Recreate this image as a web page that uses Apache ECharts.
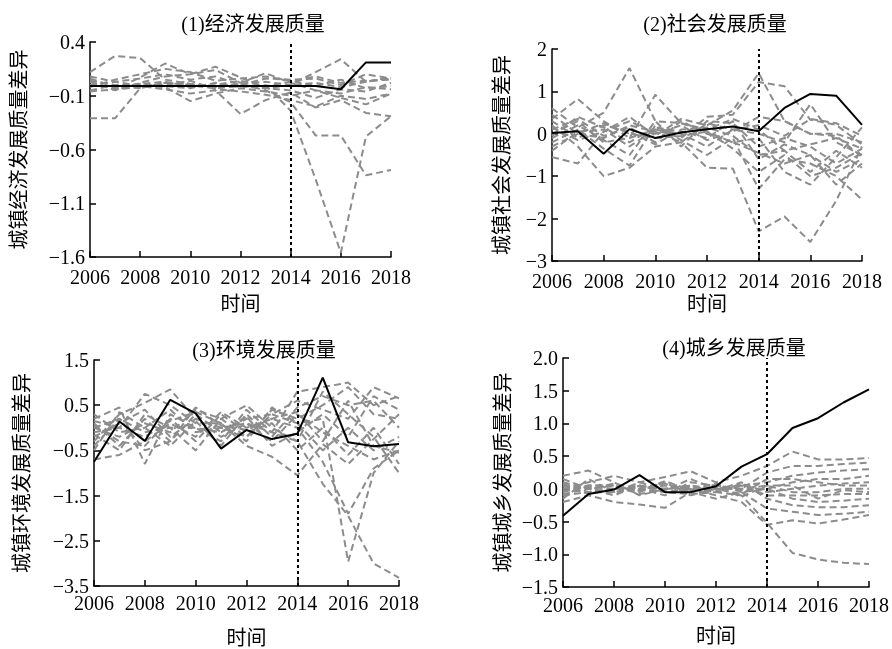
<!DOCTYPE html>
<html><head><meta charset="utf-8">
<script src="https://cdn.jsdelivr.net/npm/echarts@6/dist/echarts.min.js"></script>
<style>html,body{margin:0;padding:0;background:#fff}#c{width:892px;height:649px}#c svg{filter:grayscale(1);will-change:transform}</style>
</head><body><div id="c"></div>
<script>
const years = [2006,2007,2008,2009,2010,2011,2012,2013,2014,2015,2016,2017,2018];
const xTicks = [2006,2008,2010,2012,2014,2016,2018];

const titles = ['(1)经济发展质量','(2)社会发展质量','(3)环境发展质量','(4)城乡发展质量'];
const yNames = ['城镇经济发展质量差异','城镇社会发展质量差异','城镇环境发展质量差异','城镇城乡发展质量差异'];
const xName = '时间';
const yTicks1 = [-1.6,-1.1,-0.6,-0.1,0.4];
const yTicks2 = [-3,-2,-1,0,1,2];
const yTicks3 = [-3.5,-2.5,-1.5,-0.5,0.5,1.5];
const yTicks4 = [-1.5,-1.0,-0.5,0.0,0.5,1.0,1.5,2.0];

// (1) economic
const econTreated = [-0.01,-0.01,-0.01,-0.01,-0.01,-0.01,-0.01,-0.01,-0.01,-0.01,-0.04,0.21,0.21];
const econP1 = [-0.31,-0.31,-0.03,0.02,0.0,-0.03,-0.01,-0.03,0.0,0.02,-0.02,0.03,0.06];
const econP2 = [0.12,0.27,0.25,0.05,0.01,-0.02,0.01,0.03,0.0,0.12,0.24,0.03,0.07];
const econP3 = [0.03,-0.04,0.07,0.2,0.1,0.17,0.07,-0.03,-0.05,-0.12,-0.04,-0.06,0.02];
const econP4 = [0.0,-0.02,0.01,-0.01,-0.03,0.02,-0.02,0.0,-0.24,-0.88,-1.56,-0.48,-0.29];
const econP5 = [0.04,0.0,-0.03,0.02,0.01,-0.02,0.01,-0.05,-0.16,-0.47,-0.47,-0.84,-0.79];
const econP6 = [0.0,0.03,-0.01,-0.04,-0.08,-0.05,-0.27,-0.14,-0.07,-0.21,-0.14,-0.26,-0.29];
const econP7 = [0.08,0.03,0.06,0.1,0.05,0.08,0.0,0.06,0.05,0.06,0.0,0.1,0.06];
const econP8 = [-0.05,0.0,0.0,-0.02,-0.15,-0.08,-0.03,-0.06,-0.1,-0.05,-0.08,-0.02,-0.04];
const econP9 = [0.03,-0.05,0.02,0.08,0.1,0.14,0.02,0.11,0.02,-0.05,-0.12,-0.18,-0.08];
const econP10 = [-0.02,0.05,0.1,0.15,0.12,0.04,0.06,0.08,0.04,-0.01,0.05,-0.03,-0.01];
const econP11 = [0.06,-0.02,0.01,0.03,-0.02,0.0,0.04,-0.01,0.03,0.08,0.02,0.04,0.05];
const econP12 = [-0.06,-0.04,-0.02,0.0,0.04,-0.04,-0.06,-0.09,-0.14,-0.2,-0.1,-0.13,-0.08];

// (2) social
const socTreated = [0.02,0.06,-0.47,0.11,-0.1,0.03,0.11,0.17,0.06,0.61,0.94,0.9,0.21];
const socP1 = [0.6,0.15,0.5,1.55,0.3,0.25,0.1,0.35,0.1,-0.4,-0.25,-0.1,-0.35];
const socP2 = [0.35,0.82,0.3,-0.1,0.92,0.25,0.05,-0.2,-0.45,-0.7,-0.5,-0.9,-0.6];
const socP3 = [-0.55,-0.7,0.05,0.4,-0.05,0.35,0.2,0.55,1.43,0.3,0.0,-0.05,-0.55];
const socP4 = [0.0,0.3,-0.2,-0.1,0.1,-0.1,0.4,0.45,1.22,1.12,0.33,0.21,-0.25];
const socP5 = [0.2,-0.3,-1.0,-0.8,-0.3,-0.2,-0.8,-0.82,-2.3,-1.95,-2.55,-1.58,-0.3];
const socP6 = [-0.2,0.1,-0.35,-0.75,0.2,-0.15,-0.5,-0.1,-1.3,-0.6,-0.7,-1.0,-1.55];
const socP7 = [0.1,0.35,-0.05,0.15,-0.2,0.3,0.0,-0.2,-0.1,-0.9,-1.2,-0.55,0.15];
const socP8 = [-0.4,0.05,0.1,-0.3,0.1,0.0,-0.3,0.1,0.0,-0.2,0.7,-0.2,-0.5];
const socP9 = [0.3,-0.1,0.2,0.05,-0.25,0.1,0.15,-0.05,-0.5,-0.4,-0.9,-0.4,-0.8];
const socP10 = [-0.1,0.2,-0.15,-0.5,0.3,-0.3,0.3,0.25,-0.3,-0.1,-0.3,-0.7,-0.35];
const socP11 = [0.15,-0.15,0.05,0.3,0.0,0.2,-0.15,0.05,0.4,0.3,0.0,0.0,-0.2];
const socP12 = [-0.3,0.0,0.25,0.0,-0.1,-0.05,0.05,-0.35,-0.9,-0.5,-1.0,-0.8,-0.45];
const socP13 = [0.45,0.0,-0.1,0.2,0.05,-0.2,0.25,0.1,0.2,-0.05,0.35,0.25,-0.05];
const socP14 = [-0.05,0.4,0.15,-0.2,0.15,0.05,-0.1,0.3,-0.6,-0.25,-0.5,-1.2,-0.7];

// (3) environment
const envTreated = [-0.75,0.14,-0.29,0.62,0.32,-0.46,-0.05,-0.25,-0.13,1.11,-0.32,-0.41,-0.36];
const envP1 = [-0.3,0.3,0.55,0.85,0.2,0.0,0.1,-0.1,-0.3,-1.24,-1.95,-3.0,-3.32];
const envP2 = [0.0,-0.2,0.1,-0.1,0.4,0.2,-0.2,0.3,0.1,0.2,-2.96,-1.0,-0.3];
const envP3 = [-0.7,-0.6,-0.3,0.1,-0.2,0.35,0.0,0.2,0.0,-0.75,-1.9,-0.9,-0.5];
const envP4 = [0.2,0.45,-0.8,0.3,0.0,-0.3,0.4,-0.1,0.8,0.9,1.0,0.5,0.7];
const envP5 = [-0.1,0.0,0.75,0.5,0.1,0.1,-0.4,-0.64,-1.05,-0.36,-0.8,-0.25,0.3];
const envP6 = [0.1,-0.4,0.2,-0.3,0.3,-0.1,0.2,0.3,0.6,0.4,0.2,0.9,0.65];
const envP7 = [-0.4,0.2,-0.1,0.0,-0.5,0.2,0.5,0.0,-0.3,0.8,0.3,-0.2,-1.0];
const envP8 = [0.3,-0.1,0.0,0.4,-0.1,0.0,-0.2,0.4,0.2,0.5,0.9,0.3,0.2];
const envP9 = [-0.2,0.1,0.4,-0.2,0.2,-0.2,0.1,-0.3,0.3,-0.1,-0.4,-0.7,-0.5];
const envP10 = [0.05,-0.3,-0.4,0.2,-0.3,0.3,-0.1,0.1,-0.5,0.0,-0.6,0.0,-0.8];
const envP11 = [-0.5,0.35,0.0,-0.4,0.15,-0.4,0.3,-0.2,0.45,0.7,0.5,0.6,0.0];
const envP12 = [0.15,0.0,-0.2,0.15,0.35,0.1,-0.3,0.45,0.1,-0.5,0.0,-0.5,-0.2];
const envP13 = [-0.15,-0.5,0.3,0.0,0.0,-0.1,0.25,-0.4,-0.1,0.3,-0.2,0.7,0.4];
const envP14 = [0.0,0.2,-0.5,-0.3,0.45,0.05,-0.05,0.2,0.35,-0.3,0.6,-0.4,-0.55];

// (4) urban-rural
const urTreated = [-0.41,-0.08,-0.01,0.21,-0.05,-0.05,0.04,0.34,0.53,0.93,1.08,1.32,1.52];
const urP1 = [-0.1,-0.05,0.0,0.05,0.0,0.05,-0.05,-0.1,-0.52,-0.98,-1.08,-1.13,-1.15];
const urP2 = [0.2,0.28,0.1,-0.1,0.0,0.0,-0.1,-0.2,-0.55,-0.48,-0.53,-0.47,-0.4];
const urP3 = [0.0,0.1,0.2,0.1,0.18,0.27,0.1,0.2,0.35,0.57,0.45,0.45,0.47];
const urP4 = [-0.2,-0.1,-0.2,-0.24,-0.29,-0.05,-0.15,-0.05,-0.3,-0.35,-0.4,-0.38,-0.35];
const urP5 = [0.1,0.0,-0.05,0.0,-0.1,0.1,0.05,0.0,0.25,0.35,0.35,0.38,0.4];
const urP6 = [-0.05,0.05,0.05,-0.05,0.1,-0.1,0.0,0.05,0.1,0.2,0.25,0.28,0.3];
const urP7 = [0.05,-0.08,0.0,0.0,0.05,0.0,0.08,-0.05,0.0,0.1,0.15,0.15,0.2];
const urP8 = [-0.08,0.0,-0.1,0.05,-0.05,-0.08,-0.05,0.08,-0.05,0.0,0.05,0.08,0.1];
const urP9 = [0.0,0.05,0.05,-0.08,0.0,0.05,0.0,0.0,0.05,-0.05,-0.05,0.0,0.0];
const urP10 = [0.08,-0.05,-0.05,0.0,-0.05,0.0,-0.05,0.05,-0.1,-0.1,-0.1,-0.08,-0.08];
const urP11 = [-0.03,0.03,0.0,0.02,0.08,-0.05,0.05,-0.02,0.0,-0.15,-0.2,-0.18,-0.15];
const urP12 = [0.05,0.0,0.08,0.0,0.0,0.03,-0.02,0.1,-0.15,-0.25,-0.28,-0.28,-0.25];
const urP13 = [-0.15,0.15,-0.05,0.1,-0.02,0.15,0.0,-0.08,0.15,0.15,0.1,0.05,0.05];
const urP14 = [0.15,0.0,0.05,-0.03,0.12,-0.02,0.03,-0.12,0.05,0.05,-0.15,-0.02,-0.05];

const treatYear = 2014;

const panels = [
  {treated: econTreated, placebos:[econP1,econP2,econP3,econP4,econP5,econP6,econP7,econP8,econP9,econP10,econP11,econP12], ticks: yTicks1, dec:1},
  {treated: socTreated, placebos:[socP1,socP2,socP3,socP4,socP5,socP6,socP7,socP8,socP9,socP10,socP11,socP12,socP13,socP14], ticks: yTicks2, dec:0},
  {treated: envTreated, placebos:[envP1,envP2,envP3,envP4,envP5,envP6,envP7,envP8,envP9,envP10,envP11,envP12,envP13,envP14], ticks: yTicks3, dec:1},
  {treated: urTreated, placebos:[urP1,urP2,urP3,urP4,urP5,urP6,urP7,urP8,urP9,urP10,urP11,urP12,urP13,urP14], ticks: yTicks4, dec:1}
];

// layout
const grids = [
  {left:90, top:42, width:301, height:215},
  {left:552, top:49, width:310, height:212},
  {left:94, top:360, width:305, height:233},
  {left:563, top:358, width:313, height:229}
];
const yNameGap = [61, 40, 62, 50];
const xNameGap = [37, 33, 42, 39];
const xLabelMargin = [12, 12, 9, 10];
const titlePos = [[248,9],[710,9],[259,335],[729,333]];

const serif = '"Liberation Serif","Noto Sans CJK SC",serif';
const fmt = (v, d) => { const s = Math.abs(v).toFixed(d); return (v < -1e-9 ? '\u2212' : '') + s; };

const option = {
  animation:false,
  backgroundColor:'#fff',
  title: titles.map((t,i)=>({text:t, left:titlePos[i][0], top:titlePos[i][1], textAlign:'center',
    textStyle:{fontFamily:serif, fontSize:20, fontWeight:'normal', color:'#000'}})),
  grid: grids.map(g=>Object.assign({containLabel:false}, g)),
  xAxis: grids.map((g,i)=>({
    type:'value', gridIndex:i, min:xTicks[0], max:xTicks[xTicks.length-1], interval:2,
    name:xName, nameLocation:'middle', nameGap:xNameGap[i],
    nameTextStyle:{fontFamily:serif, fontSize:20, color:'#000'},
    axisLine:{show:true, onZero:false, lineStyle:{color:'#000', width:1.5}},
    axisTick:{show:true, inside:true, length:6, lineStyle:{color:'#000', width:1.5}},
    axisLabel:{formatter:v=>String(v), fontFamily:serif, fontSize:20, lineHeight:16, color:'#000', margin:xLabelMargin[i], showMinLabel:true, showMaxLabel:true},
    splitLine:{show:false}
  })),
  yAxis: panels.map((p,i)=>({
    type:'value', gridIndex:i, min:p.ticks[0], max:p.ticks[p.ticks.length-1],
    interval:(p.ticks[1]-p.ticks[0]),
    name:yNames[i], nameLocation:'middle', nameGap:yNameGap[i], nameRotate:90,
    nameTextStyle:{fontFamily:serif, fontSize:20, color:'#000'},
    axisLine:{show:true, onZero:false, lineStyle:{color:'#000', width:1.5}},
    axisTick:{show:true, inside:true, length:6, lineStyle:{color:'#000', width:1.5}},
    axisLabel:{formatter:v=>fmt(v,p.dec), fontFamily:serif, fontSize:20, lineHeight:14, color:'#000', margin:5, showMinLabel:true, showMaxLabel:true},
    splitLine:{show:false}
  })),
  series: []
};

panels.forEach((p,i)=>{
  p.placebos.forEach(arr=>{
    option.series.push({type:'line', xAxisIndex:i, yAxisIndex:i, data:years.map((y,k)=>[y,arr[k]]),
      symbol:'none', silent:true, z:2,
      lineStyle:{color:'#8c8c8c', width:2, type:[7,4]}});
  });
  option.series.push({type:'line', xAxisIndex:i, yAxisIndex:i, data:years.map((y,k)=>[y,p.treated[k]]),
    symbol:'none', silent:true, z:5,
    lineStyle:{color:'#000', width:2, type:'solid'},
    markLine:{silent:true, symbol:['none','none'], label:{show:false},
      lineStyle:{color:'#000', width:2, type:[3,3]},
      data:[{xAxis:treatYear}]}
  });
});

const chart = echarts.init(document.getElementById('c'), null, {renderer:'svg'});
chart.setOption(option);
</script>
</body></html>
